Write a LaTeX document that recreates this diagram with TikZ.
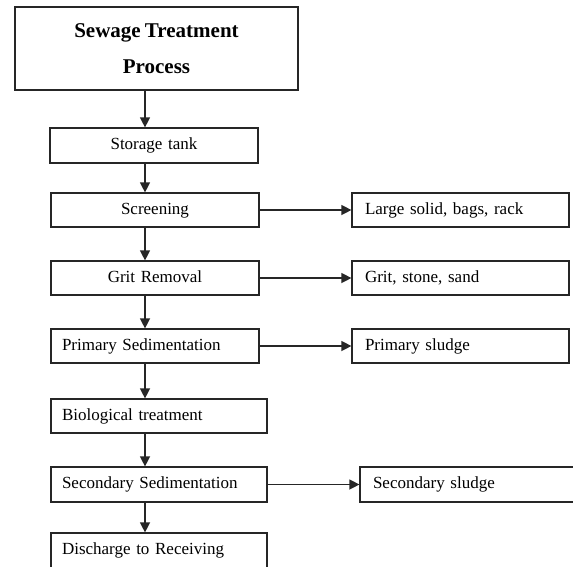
\documentclass[tikz,border=0pt]{standalone}
\usepackage{fontspec}
\setmainfont{Liberation Serif}[WordSpace={0.8,0.5,0.5}]
\usetikzlibrary{arrows.meta}
\DeclareRobustCommand\mytightspace{\spaceskip=0.17em plus 0.05em\relax}
\tikzset{
  box/.style={draw=black!85, line width=1.2pt, rectangle, inner ysep=0pt,
    font=\fontsize{17}{20}\selectfont\mytightspace, text height=11.5pt, text depth=3.5pt},
  cbox/.style={box, align=center, minimum width=#1, text width=#1-20pt, inner xsep=10pt},
  lbox/.style={box, align=left, minimum width=#1, text width=#1-22pt, inner xsep=11pt},
  rbox/.style={box, align=left, minimum width=#1, text width=#1-26pt, inner xsep=13pt},
  arr/.style={draw=black!85, line width=1.3pt, -{Triangle[length=10pt,width=10pt]}}
}
\begin{document}
\begin{tikzpicture}[x=1pt,y=-1pt]
\clip (0,0) rectangle (573,566);
\fill[white] (0,0) rectangle (573,566);
\coordinate (ax) at (145,0);
% title
\node[draw=black!85, line width=1.2pt, minimum width=283pt, minimum height=83pt,
  align=center, font=\bfseries\fontsize{21}{36}\selectfont] (title) at (156.5,48.5)
  {Sewage Treatment\\Process};
% left column
\node[cbox=208pt, minimum height=35pt] (storage) at (154,145.5) {Storage tank};
\node[cbox=208pt, minimum height=34pt] (screen) at (155,210) {Screening};
\node[cbox=208pt, minimum height=34pt] (grit) at (155,278) {Grit Removal};
\node[lbox=208pt, minimum height=34pt] (prim) at (155,346) {Primary Sedimentation};
\node[lbox=216pt, minimum height=34pt] (bio) at (159,416) {Biological treatment};
\node[lbox=216pt, minimum height=35pt] (sec) at (159,484.5) {Secondary Sedimentation};
\node[lbox=216pt, minimum height=35pt] (dis) at (159,550.5) {Discharge to Receiving};
% right column
\node[rbox=217pt, minimum height=34pt] (large) at (460.5,210) {Large solid, bags, rack};
\node[rbox=217pt, minimum height=34pt] (gstone) at (460.5,278) {Grit, stone, sand};
\node[rbox=217pt, minimum height=34pt] (psl) at (460.5,346) {Primary sludge};
\node[rbox=218pt, minimum height=35pt] (ssl) at (469,484.5) {Secondary sludge};
% vertical arrows
\draw[arr] (title.south -| ax) -- (storage.north -| ax);
\draw[arr] (storage.south -| ax) -- (screen.north -| ax);
\draw[arr] (screen.south -| ax) -- (grit.north -| ax);
\draw[arr] (grit.south -| ax) -- (prim.north -| ax);
\draw[arr] (prim.south -| ax) -- (bio.north -| ax);
\draw[arr] (bio.south -| ax) -- (sec.north -| ax);
\draw[arr] (sec.south -| ax) -- (dis.north -| ax);
% horizontal arrows
\draw[arr] (screen.east) -- (large.west);
\draw[arr] (grit.east) -- (gstone.west);
\draw[arr] (prim.east) -- (psl.west);
\draw[arr] (sec.east) -- (ssl.west);
\end{tikzpicture}
\end{document}
